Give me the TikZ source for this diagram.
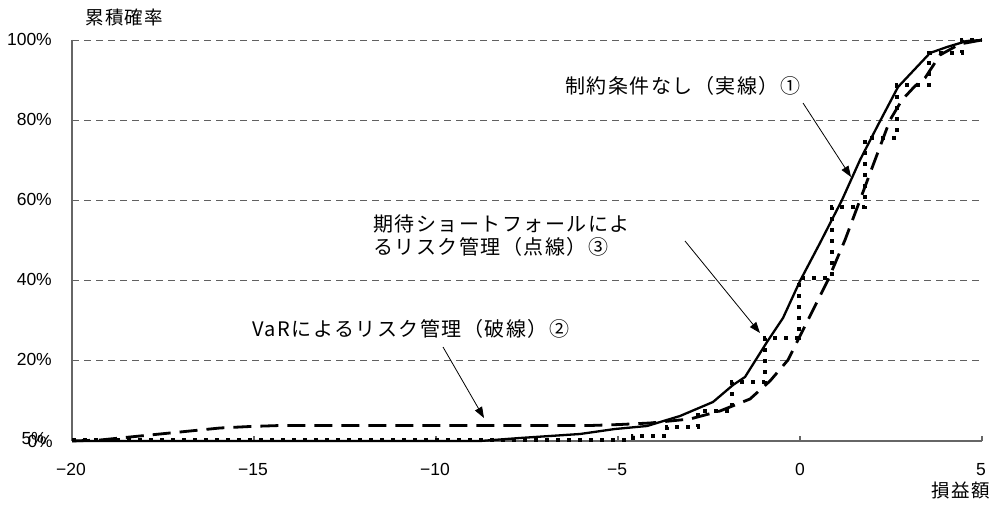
\documentclass[tikz,border=0pt]{standalone}
\usepackage{fontspec}
\setmainfont{Noto Sans CJK JP}
\newfontfamily\numfamily{Liberation Sans}
\newfontfamily\jpspaced[LetterSpace=7.5]{Noto Sans CJK JP}
\usetikzlibrary{arrows.meta}
\newcommand{\JPsize}{\jpspaced\fontsize{20bp}{23.5bp}\selectfont}
\newcommand{\AXsize}{\fontsize{18.5bp}{22bp}\selectfont}
\newcommand{\NUMsize}{\numfamily\fontsize{17.5bp}{20bp}\selectfont}
\begin{document}
\begin{tikzpicture}[x=1bp,y=-1bp,
  gridl/.style={draw=gray!75!black, line width=0.8bp, dash pattern=on 7bp off 5bp},
  axisline/.style={draw=gray!80!black, line width=1.4bp},
  solidc/.style={draw=black, line width=2.3bp, line join=round},
  dashc/.style={draw=black, line width=2.8bp, dash pattern=on 18bp off 9bp, line join=round},
  dotc/.style={draw=black, line width=3.4bp, dash pattern=on 4bp off 7bp},
  lab/.style={inner sep=0pt, font=\JPsize},
  axt/.style={inner sep=0pt, font=\AXsize\jpspaced},
  num/.style={inner sep=0pt, font=\NUMsize},
  arr/.style={draw=black, line width=0.8bp, -{Triangle[length=11bp,width=8bp]}}
]
\useasboundingbox (0,0) rectangle (994,505);
\fill[white] (0,0) rectangle (994,505);

% grid
\foreach \yy in {40,120,200,280,360} \draw[gridl] (72,\yy) -- (982,\yy);
% axes
\draw[axisline, line width=1.1bp] (72,40) -- (72,441);
\draw[axisline] (72,441) -- (982,441);
\foreach \xx in {254,436,618,800,982} \draw[axisline] (\xx,441) -- (\xx,436);

% axis titles
\node[axt, anchor=base west] (ytitle) at (85,24.5) {累積確率};
\node[axt, anchor=base east] (xtitle) at (990,497) {損益額};

% y labels
\node[num, anchor=base east] (y100) at (52,46) {100\%};
\node[num, anchor=base east] (y80) at (52,126) {80\%};
\node[num, anchor=base east] (y60) at (52,206) {60\%};
\node[num, anchor=base east] (y40) at (52,286) {40\%};
\node[num, anchor=base east] (y20) at (52,366) {20\%};
\node[num, anchor=base east] (y5) at (47,444) {5\%};
\node[num, anchor=base east] (y0) at (53,447) {0\%};

% x labels
\node[num, anchor=base] (xm20) at (71,475) {−20};
\node[num, anchor=base] (xm15) at (253,475) {−15};
\node[num, anchor=base] (xm10) at (435,475) {−10};
\node[num, anchor=base] (xm5) at (617,475) {−5};
\node[num, anchor=base] (x0) at (800,475) {0};
\node[num, anchor=base] (x5) at (981,475) {5};

% curves
\draw[dotc] (72,440) -- (633,440) -- (633,436) -- (667,436) -- (667,427) -- (698,427) -- (698,411)
  -- (732,411) -- (732,382) -- (765,382) -- (765,338) -- (799,338) -- (799,278) -- (832,278)
  -- (832,207) -- (865,207) -- (865,138) -- (897,138) -- (897,85) -- (929,85) -- (929,53)
  -- (962,53) -- (962,40) -- (982,40);
\draw[dashc] (72,441) -- (100,440) -- (130,437) -- (160,434) -- (190,431) -- (220,428) -- (250,426.5)
  -- (280,425.5) -- (590,425.5) -- (620,424.5) -- (650,423) -- (690,419) -- (720,411) -- (750,399)
  -- (770,381) -- (788,360) -- (808,320) -- (828,280) -- (845,240) -- (860,200) -- (875,160)
  -- (890,120) -- (902,100) -- (915,86) -- (925,78) -- (940,55) -- (960,44) -- (982,40);
\draw[solidc] (72,441) -- (480,441) -- (520,438) -- (580,434) -- (615,429) -- (647,426) -- (680,416)
  -- (713,402) -- (733,385) -- (745,377) -- (767,342) -- (783,318) -- (800,281) -- (820,243)
  -- (842,200) -- (860,160) -- (878,125) -- (898,87) -- (930,53) -- (947,47) -- (967,41) -- (982,40);

% labels
\node[lab, anchor=base west] (l1) at (565,94) {制約条件なし（実線）①};
\node[lab, anchor=base west] (l3a) at (373,231.5) {期待ショートフォールによ};
\node[lab, anchor=base west] (l3b) at (373,255) {るリスク管理（点線）③};
\node[lab, anchor=base west] (l2) at (252,336.5) {VaRによるリスク管理（破線）②};

% arrows
\coordinate (a1s) at (803,103); \coordinate (a1e) at (851,177);
\coordinate (a3s) at (685,241); \coordinate (a3e) at (760,333);
\coordinate (a2s) at (443,347); \coordinate (a2e) at (484,418);
\draw[arr] (a1s) -- (a1e);
\draw[arr] (a3s) -- (a3e);
\draw[arr] (a2s) -- (a2e);
\end{tikzpicture}
\end{document}
